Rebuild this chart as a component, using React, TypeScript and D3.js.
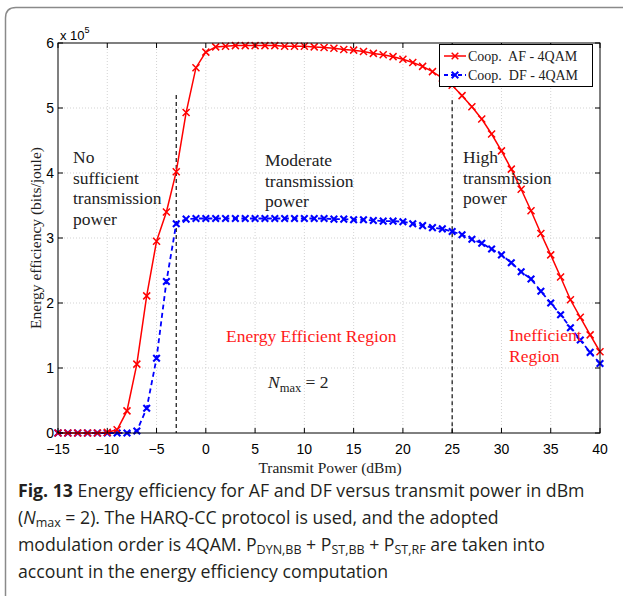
import React, { useEffect, useRef } from 'react';
import * as d3 from 'd3';

// transmit power in dBm (one point per dBm)
const power = [
  -15, -14, -13, -12, -11, -10, -9, -8, -7, -6, -5, -4, -3, -2, -1, 0, 1, 2, 3, 4, 5, 6, 7, 8, 9, 10,
  11, 12, 13, 14, 15, 16, 17, 18, 19, 20, 21, 22, 23, 24, 25, 26, 27, 28, 29, 30, 31, 32, 33, 34, 35,
  36, 37, 38, 39, 40,
];

// energy efficiency, units of 1e5 bits/joule
const afValues = [
  0, 0, 0, 0, 0, 0.01, 0.05, 0.34, 1.06, 2.11, 2.95, 3.4, 4.02, 4.93, 5.62, 5.86, 5.94, 5.95, 5.96,
  5.96, 5.96, 5.96, 5.96, 5.95, 5.95, 5.95, 5.94, 5.93, 5.92, 5.9, 5.89, 5.87, 5.84, 5.82, 5.79, 5.75,
  5.7, 5.64, 5.56, 5.46, 5.35, 5.19, 5.02, 4.83, 4.6, 4.34, 4.06, 3.75, 3.42, 3.07, 2.74, 2.4, 2.05,
  1.78, 1.51, 1.25,
];

const dfValues = [
  0, 0, 0, 0, 0, 0, 0, 0, 0.03, 0.38, 1.15, 2.33, 3.22, 3.29, 3.3, 3.3, 3.3, 3.3, 3.3, 3.3, 3.3, 3.3,
  3.3, 3.3, 3.3, 3.3, 3.3, 3.3, 3.29, 3.29, 3.28, 3.28, 3.27, 3.26, 3.26, 3.25, 3.22, 3.19, 3.16, 3.14,
  3.1, 3.05, 2.98, 2.92, 2.83, 2.74, 2.62, 2.48, 2.37, 2.18, 2.0, 1.82, 1.62, 1.43, 1.24, 1.07,
];

const xTicks = [-15, -10, -5, 0, 5, 10, 15, 20, 25, 30, 35, 40];
const yTicks = [0, 1, 2, 3, 4, 5, 6];
const boundaries = [-3, 25];
const boundaryTop = [5.2, 5.12];

const legendLabels = ['Coop.  AF - 4QAM', 'Coop.  DF - 4QAM'];

const serif = '"Liberation Serif", "Times New Roman", serif';
const sans = '"Liberation Sans", Arial, sans-serif';
const capFont = '"Open Sans", "Noto Sans", sans-serif';

export default function App() {
  const svgRef = useRef<SVGSVGElement>(null);

  useEffect(() => {
    const svg = d3.select(svgRef.current);
    svg.selectAll('*').remove();

    const x = d3.scaleLinear().domain([-15, 40]).range([58, 600]);
    const y = d3.scaleLinear().domain([0, 6]).range([433, 43]);
    const [x0, x1] = x.range();
    const [y0, y1] = y.range();

    // figure frame
    svg
      .append('path')
      .attr('d', 'M5.5,600 L5.5,18 Q5.5,7.5 16,7.5 L625,7.5')
      .attr('fill', 'none')
      .attr('stroke', '#8a8a8a')
      .attr('stroke-width', 1.5);

    // grid
    const grid = svg.append('g').attr('stroke', '#c8c8c8').attr('stroke-width', 0.8).attr('stroke-dasharray', '1,2');
    xTicks.slice(1, -1).forEach((t) => {
      grid.append('line').attr('x1', x(t)).attr('x2', x(t)).attr('y1', y1).attr('y2', y0);
    });
    yTicks.slice(1, -1).forEach((t) => {
      grid.append('line').attr('x1', x0).attr('x2', x1).attr('y1', y(t)).attr('y2', y(t));
    });

    // region boundaries
    boundaries.forEach((b, i) => {
      svg
        .append('line')
        .attr('x1', x(b))
        .attr('x2', x(b))
        .attr('y1', y(boundaryTop[i]))
        .attr('y2', y0)
        .attr('stroke', '#222')
        .attr('stroke-width', 1.3)
        .attr('stroke-dasharray', '4,3');
    });

    const pts = (vals: number[]) => power.map((p, i) => [p, vals[i]] as [number, number]);
    const line = d3
      .line<[number, number]>()
      .x((d) => x(d[0]))
      .y((d) => y(d[1]));

    const cross = (g: any, cx: number, cy: number, s: number) =>
      g.append('path').attr('d', `M${cx - s},${cy - s}L${cx + s},${cy + s}M${cx - s},${cy + s}L${cx + s},${cy - s}`);

    // DF series
    svg
      .append('path')
      .attr('d', line(pts(dfValues)))
      .attr('fill', 'none')
      .attr('stroke', '#0000ff')
      .attr('stroke-width', 1.8)
      .attr('stroke-dasharray', '5,3.5');
    const dfMarks = svg.append('g').attr('stroke', '#0000ff').attr('stroke-width', 2.1);
    pts(dfValues).forEach((d) => cross(dfMarks, x(d[0]), y(d[1]), 3.3));

    // AF series
    svg
      .append('path')
      .attr('d', line(pts(afValues)))
      .attr('fill', 'none')
      .attr('stroke', '#ff0000')
      .attr('stroke-width', 1.5);
    const afMarks = svg.append('g').attr('stroke', '#ff0000').attr('stroke-width', 1.5);
    pts(afValues).forEach((d) => cross(afMarks, x(d[0]), y(d[1]), 3.5));

    // axes box and ticks
    svg
      .append('rect')
      .attr('x', x0)
      .attr('y', y1)
      .attr('width', x1 - x0)
      .attr('height', y0 - y1)
      .attr('fill', 'none')
      .attr('stroke', '#000')
      .attr('stroke-width', 1);
    const ticks = svg.append('g').attr('stroke', '#000').attr('stroke-width', 1);
    xTicks.forEach((t) => {
      ticks.append('line').attr('x1', x(t)).attr('x2', x(t)).attr('y1', y0).attr('y2', y0 - 5);
      ticks.append('line').attr('x1', x(t)).attr('x2', x(t)).attr('y1', y1).attr('y2', y1 + 5);
    });
    yTicks.forEach((t) => {
      ticks.append('line').attr('x1', x0).attr('x2', x0 + 5).attr('y1', y(t)).attr('y2', y(t));
      ticks.append('line').attr('x1', x1).attr('x2', x1 - 5).attr('y1', y(t)).attr('y2', y(t));
    });

    svg
      .append('g')
      .attr('font-family', sans)
      .attr('font-size', 14)
      .attr('text-anchor', 'middle')
      .selectAll('text')
      .data(xTicks)
      .join('text')
      .attr('x', (d) => x(d))
      .attr('y', 454)
      .text((d) => (d < 0 ? `\u2212${-d}` : `${d}`));

    svg
      .append('g')
      .attr('font-family', sans)
      .attr('font-size', 14)
      .attr('text-anchor', 'end')
      .selectAll('text')
      .data(yTicks)
      .join('text')
      .attr('x', 54)
      .attr('y', (d) => y(d) + 4.5)
      .text((d) => `${d}`);

    const expo = svg.append('text').attr('x', 60).attr('y', 40).attr('font-family', sans).attr('font-size', 13);
    expo.append('tspan').text('x 10');
    expo.append('tspan').attr('font-size', 9).attr('dy', -7).text('5');

    // axis labels
    svg
      .append('text')
      .attr('x', 330)
      .attr('y', 473)
      .attr('text-anchor', 'middle')
      .attr('font-family', serif)
      .attr('font-size', 15.5)
      .attr('fill', '#222')
      .text('Transmit Power (dBm)');
    svg
      .append('text')
      .attr('transform', `translate(41,${(y0 + y1) / 2}) rotate(-90)`)
      .attr('text-anchor', 'middle')
      .attr('font-family', serif)
      .attr('font-size', 15.5)
      .attr('fill', '#222')
      .text('Energy efficiency (bits/joule)');

    // annotations
    const note = (lines: string[], ax: number, ay: number, color = '#222') => {
      const t = svg.append('text').attr('font-family', serif).attr('font-size', 17.5).attr('fill', color);
      lines.forEach((l, i) => t.append('tspan').attr('x', ax).attr('y', ay + i * 20.5).text(l));
    };
    note(['No', 'sufficient', 'transmission', 'power'], 73, 163);
    note(['Moderate', 'transmission', 'power'], 265, 166);
    note(['High', 'transmission', 'power'], 463, 163);
    note(['Energy Efficient Region'], 226, 342, '#ff1a1a');
    note(['Inefficient', 'Region'], 509, 341, '#ff1a1a');

    const nmax = svg.append('text').attr('x', 268).attr('y', 388).attr('font-family', serif).attr('font-size', 17.5).attr('fill', '#222');
    nmax.append('tspan').attr('font-style', 'italic').text('N');
    nmax.append('tspan').attr('font-size', 12.5).attr('dy', 4).text('max');
    nmax.append('tspan').attr('dy', -4).text(' = 2');

    // legend
    const lg = svg.append('g');
    lg.append('rect').attr('x', 439.5).attr('y', 44.5).attr('width', 153).attr('height', 42).attr('fill', '#fff').attr('stroke', '#000');
    const colors = ['#ff0000', '#0000ff'];
    legendLabels.forEach((lab, i) => {
      const cy = 56 + i * 19;
      lg.append('line')
        .attr('x1', 444)
        .attr('x2', 466)
        .attr('y1', cy)
        .attr('y2', cy)
        .attr('stroke', colors[i])
        .attr('stroke-width', i ? 1.8 : 1.5)
        .attr('stroke-dasharray', i ? '4,3' : null);
      const mg = lg.append('g').attr('stroke', colors[i]).attr('stroke-width', i ? 2 : 1.5);
      cross(mg, 455, cy, 3.3);
      lg.append('text')
        .attr('x', 468)
        .attr('y', cy + 5)
        .attr('font-family', serif)
        .attr('font-size', 14)
        .attr('fill', '#222')
        .style('white-space', 'pre')
        .text(lab);
    });

    // caption
    const cap = svg.append('g').attr('font-family', capFont).attr('font-size', 17.7).attr('fill', '#231f20');
    const sub = 12.5;
    const l1 = cap.append('text').attr('x', 18).attr('y', 497);
    l1.append('tspan').attr('font-weight', 'bold').text('Fig. 13');
    l1.append('tspan').text(' Energy efficiency for AF and DF versus transmit power in dBm');
    const l2 = cap.append('text').attr('x', 18).attr('y', 524);
    l2.append('tspan').text('(');
    l2.append('tspan').attr('font-style', 'italic').text('N');
    l2.append('tspan').attr('font-size', sub).attr('dy', 3).text('max');
    l2.append('tspan').attr('dy', -3).text(' = 2). The HARQ-CC protocol is used, and the adopted');
    const l3 = cap.append('text').attr('x', 18).attr('y', 551);
    l3.append('tspan').text('modulation order is 4QAM. P');
    l3.append('tspan').attr('font-size', sub).attr('dy', 3).text('DYN,BB');
    l3.append('tspan').attr('dy', -3).text(' + P');
    l3.append('tspan').attr('font-size', sub).attr('dy', 3).text('ST,BB');
    l3.append('tspan').attr('dy', -3).text(' + P');
    l3.append('tspan').attr('font-size', sub).attr('dy', 3).text('ST,RF');
    l3.append('tspan').attr('dy', -3).text(' are taken into');
    cap.append('text').attr('x', 18).attr('y', 578).text('account in the energy efficiency computation');
  }, []);

  return (
    <svg
      ref={svgRef}
      width={623}
      height={596}
      style={{ position: 'absolute', left: 0, top: 0, background: '#fff' }}
    />
  );
}
